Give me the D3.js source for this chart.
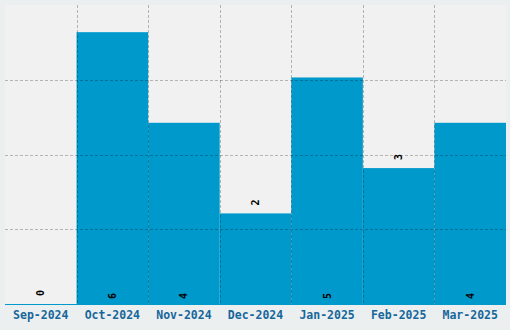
<!DOCTYPE html>
<html><head><meta charset="utf-8">
<script src="https://cdn.jsdelivr.net/npm/d3@7"></script>
<style>html,body{margin:0;padding:0;background:#eceff0;}svg{display:block;}</style>
</head><body>
<script>
const categories = ["Sep-2024","Oct-2024","Nov-2024","Dec-2024","Jan-2025","Feb-2025","Mar-2025"];
const values = [0, 6, 4, 2, 5, 3, 4];

const W = 510, H = 330;
const m = {top: 5, right: 4, bottom: 26, left: 5};
const svg = d3.select("body").append("svg").attr("width", W).attr("height", H);
svg.append("rect").attr("width", W).attr("height", H).attr("fill", "#eceff0");

const x = d3.scaleBand().domain(categories).range([m.left, W - m.right]).padding(0);
const yMax = d3.max(values) * 1.1;
const y = d3.scaleLinear().domain([0, yMax]).range([H - m.bottom, m.top]);

svg.append("rect").attr("x", m.left).attr("y", m.top)
  .attr("width", W - m.right - m.left).attr("height", H - m.bottom - m.top)
  .attr("fill", "#f1f1f1");

svg.selectAll("rect.bar").data(values).join("rect").attr("class", "bar")
  .attr("x", (d, i) => x(categories[i]))
  .attr("width", x.bandwidth())
  .attr("y", d => y(d))
  .attr("height", d => y(0) - y(d))
  .attr("fill", "#0099cc");

// baseline
svg.append("line").attr("x1", m.left).attr("x2", W - m.right)
  .attr("y1", y(0) + 0.5).attr("y2", y(0) + 0.5)
  .attr("stroke", "#0099cc").attr("stroke-width", 1);

// grid
const gridColor = "rgba(0,0,0,0.25)";
const hTicks = [1, 2, 3].map(k => yMax * k / 4);
svg.selectAll("line.hg").data(hTicks).join("line").attr("class", "hg")
  .attr("x1", m.left).attr("x2", W - m.right)
  .attr("y1", d => Math.round(y(d)) + 0.5).attr("y2", d => Math.round(y(d)) + 0.5)
  .attr("stroke", gridColor).attr("stroke-dasharray", "3,2");
svg.selectAll("line.vg").data(categories.slice(1)).join("line").attr("class", "vg")
  .attr("x1", d => Math.round(x(d)) + 0.5).attr("x2", d => Math.round(x(d)) + 0.5)
  .attr("y1", m.top).attr("y2", y(0))
  .attr("stroke", gridColor).attr("stroke-dasharray", "3,2");

// value labels
svg.selectAll("text.val").data(values).join("text").attr("class", "val")
  .attr("transform", (d, i) => {
    const cx = x(categories[i]) + x.bandwidth() / 2;
    const cy = d >= 4 ? y(0) - 8 : y(d) - 11;
    return `translate(${cx},${cy}) rotate(-90)`;
  })
  .attr("text-anchor", "middle").attr("dominant-baseline", "central")
  .attr("font-family", "DejaVu Sans Mono, monospace").attr("font-weight", "bold")
  .attr("font-size", "10px").attr("fill", "#000")
  .text(d => d);

// x axis labels
svg.selectAll("text.cat").data(categories).join("text").attr("class", "cat")
  .attr("x", d => x(d) + x.bandwidth() / 2)
  .attr("y", y(0) + 11)
  .attr("text-anchor", "middle").attr("dominant-baseline", "central")
  .attr("font-family", "DejaVu Sans Mono, monospace").attr("font-weight", "bold")
  .attr("font-size", "11.5px").attr("fill", "#16679b")
  .text(d => d);
</script>
</body></html>
